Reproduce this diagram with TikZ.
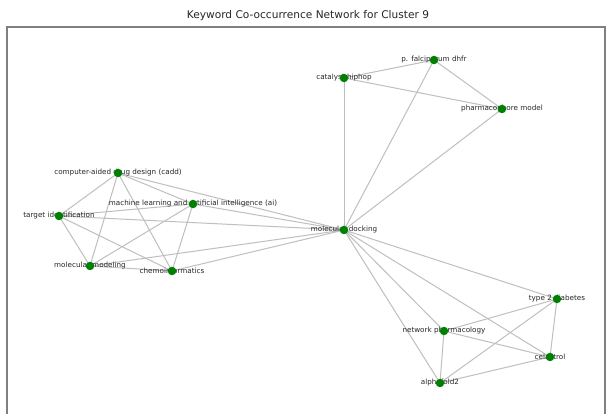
\documentclass[tikz,border=0pt]{standalone}
\usepackage{fontspec}
\setmainfont{DejaVu Sans}
\begin{document}
\begin{tikzpicture}[x=1pt,y=-1pt,
  edge/.style={draw=black!25,line width=1pt},
  dot/.style={circle,fill=green!50!black,inner sep=0pt,minimum size=8.5pt},
  lbl/.style={font=\fontsize{7.2}{8}\selectfont,text=black!85,inner sep=0pt},
  frameline/.style={draw=black!50,line width=1.4pt}]
\useasboundingbox (0,0) rectangle (606,414);
\fill[white] (0,0) rectangle (606,414);
% axes frame
\draw[frameline] (7,420) -- (7,27) -- (605,27) -- (605,420);
\node[font=\fontsize{10.6}{12}\selectfont,text=black!85] (title) at (308,16) {Keyword Co-occurrence Network for Cluster 9};
% keyword positions
\coordinate (pf) at (434,60);
\coordinate (ch) at (344,78);
\coordinate (pm) at (502,109);
\coordinate (cadd) at (118,173);
\coordinate (ml) at (193,204);
\coordinate (ti) at (59,216);
\coordinate (md) at (344,230);
\coordinate (mm) at (90,266);
\coordinate (ci) at (172,271);
\coordinate (t2) at (557,299);
\coordinate (np) at (444,331);
\coordinate (ce) at (550,357);
\coordinate (af) at (440,383);
% co-occurrence edges
\foreach \a/\b in {ch/pf,ch/pm,pf/pm,ch/md,pf/md,pm/md,
  cadd/ti,cadd/ml,cadd/mm,cadd/ci,cadd/md,
  ml/ti,ml/mm,ml/ci,ml/md,
  ti/md,ti/mm,ti/ci,mm/ci,mm/md,ci/md,
  md/t2,md/np,md/ce,md/af,
  t2/np,t2/ce,t2/af,np/ce,np/af,ce/af}
  \draw[edge] (\a) -- (\b);
% labels
\node[lbl] (lpf) at (pf) {p. falciparum dhfr};
\node[lbl] (lch) at (ch) {catalyst hiphop};
\node[lbl] (lpm) at (pm) {pharmacophore model};
\node[lbl] (lcadd) at (cadd) {computer-aided drug design (cadd)};
\node[lbl] (lml) at (ml) {machine learning and artificial intelligence (ai)};
\node[lbl] (lti) at (ti) {target identification};
\node[lbl] (lmd) at (md) {molecular docking};
\node[lbl] (lmm) at (mm) {molecular modeling};
\node[lbl] (lci) at (ci) {chemoinformatics};
\node[lbl] (lt2) at (t2) {type 2 diabetes};
\node[lbl] (lnp) at (np) {network pharmacology};
\node[lbl] (lce) at (ce) {celastrol};
\node[lbl] (laf) at (af) {alphafold2};
% node markers
\foreach \n in {pf,ch,pm,cadd,ml,ti,md,mm,ci,t2,np,ce,af}
  \node[dot] (d\n) at (\n) {};
\end{tikzpicture}
\end{document}
